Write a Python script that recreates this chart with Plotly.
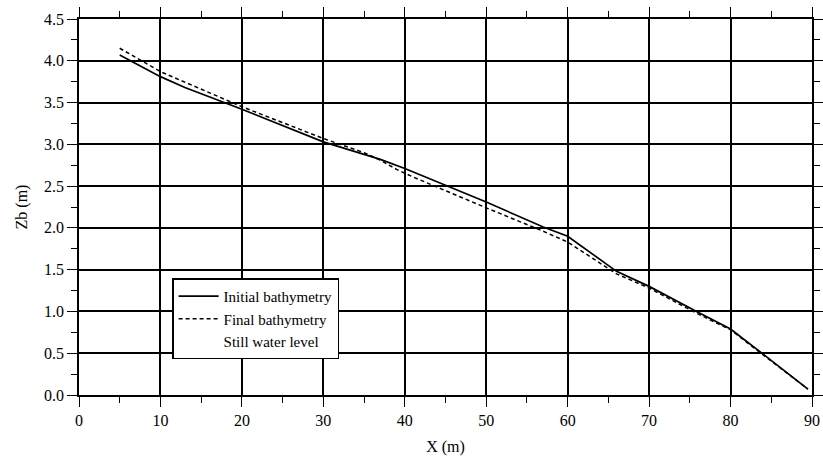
import plotly.graph_objects as go

# Initial bathymetry (solid)
x_initial = [5, 10, 13, 20, 30, 37, 40, 45, 50, 57, 60, 66, 70, 76, 80, 84, 89.5]
zb_initial = [4.07, 3.81, 3.68, 3.42, 3.03, 2.82, 2.71, 2.51, 2.31, 2.01, 1.90, 1.48, 1.30, 0.99, 0.79, 0.49, 0.07]

# Final bathymetry (dashed)
x_final = [5, 10, 20, 30, 35, 37, 39, 41, 50, 57, 60, 66, 70, 76, 80, 84, 89.5]
zb_final = [4.15, 3.87, 3.45, 3.07, 2.90, 2.81, 2.70, 2.61, 2.24, 1.96, 1.83, 1.45, 1.28, 0.97, 0.78, 0.48, 0.07]

x_ticks = [0, 10, 20, 30, 40, 50, 60, 70, 80, 90]
y_ticks = [0.0, 0.5, 1.0, 1.5, 2.0, 2.5, 3.0, 3.5, 4.0, 4.5]
y_ticklabels = ["0.0", "0.5", "1.0", "1.5", "2.0", "2.5", "3.0", "3.5", "4.0", "4.5"]

FONT = "Liberation Serif"

fig = go.Figure()
fig.add_trace(go.Scatter(x=x_initial, y=zb_initial, mode="lines", name="Initial bathymetry",
                         line=dict(color="black", width=1.7)))
fig.add_trace(go.Scatter(x=x_final, y=zb_final, mode="lines", name="Final bathymetry",
                         line=dict(color="black", width=1.5, dash="4px,3px")))
fig.add_trace(go.Scatter(x=[None], y=[None], mode="lines", name="Still water level",
                         line=dict(color="rgba(0,0,0,0)", width=1)))

axis_common = dict(
    showline=True, linecolor="black", linewidth=1.5, mirror="allticks",
    showgrid=True, gridcolor="black", gridwidth=1.5,
    ticks="outside", ticklen=10, tickwidth=1.3, tickcolor="black",
    zeroline=False, automargin=False,
    tickfont=dict(family=FONT, size=16, color="black"),
)

fig.update_xaxes(
    range=[0, 90], tickvals=x_ticks,
    title=dict(text="X (m)", font=dict(family=FONT, size=16, color="black"), standoff=13),
    minor=dict(dtick=5, ticks="outside", ticklen=6, tickcolor="black", tickwidth=1.2, showgrid=False),
    **axis_common,
)
fig.update_yaxes(
    range=[0, 4.5], tickvals=y_ticks, ticktext=y_ticklabels,
    title=dict(text="Zb (m)", font=dict(family=FONT, size=16, color="black"), standoff=12),
    minor=dict(dtick=0.25, ticks="outside", ticklen=6, tickcolor="black", tickwidth=1.2, showgrid=False),
    **axis_common,
)

fig.update_layout(
    width=823, height=459,
    margin=dict(l=79, r=11, t=19, b=64),
    plot_bgcolor="white", paper_bgcolor="white",
    font=dict(family=FONT, size=16, color="black"),
    showlegend=True,
    legend=dict(
        x=0.127, y=0.31, xanchor="left", yanchor="top",
        bgcolor="white", bordercolor="black", borderwidth=1.5,
        font=dict(family=FONT, size=15, color="black"),
        itemwidth=40, tracegroupgap=0,
    ),
)

fig.write_html("out.html")
